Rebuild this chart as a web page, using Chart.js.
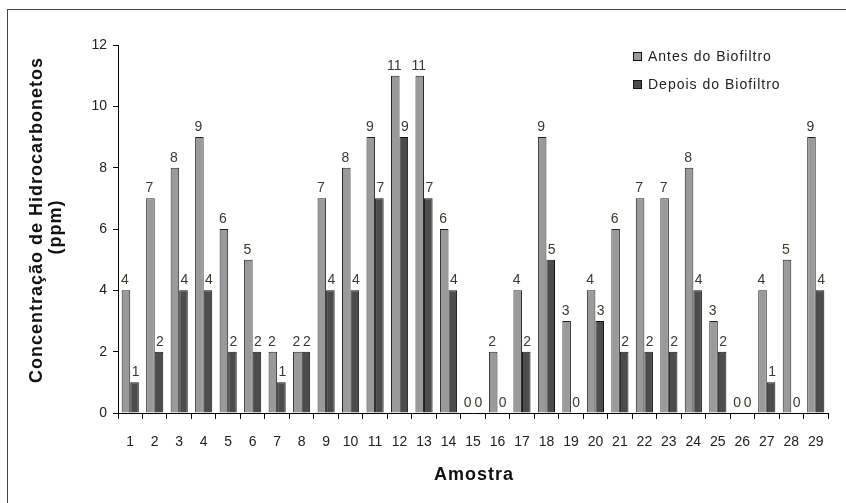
<!DOCTYPE html>
<html>
<head>
<meta charset="utf-8">
<script src="https://cdn.jsdelivr.net/npm/chart.js@4.4.1/dist/chart.umd.min.js"></script>
<style>
  html, body { margin: 0; padding: 0; background: #fff; overflow: hidden; }
  #frame { position: absolute; left: 7px; top: 9px; width: 900px; height: 600px; border: 1px solid #444; }
  #wrap { position: absolute; left: 0; top: 0; width: 846px; height: 503px; }
</style>
</head>
<body>
<div id="frame"></div>
<div id="wrap"><canvas id="chart" width="846" height="503"></canvas></div>
<script>
var amostras = ['1','2','3','4','5','6','7','8','9','10','11','12','13','14','15','16','17','18','19','20','21','22','23','24','25','26','27','28','29'];
var antes = [4, 7, 8, 9, 6, 5, 2, 2, 7, 8, 9, 11, 11, 6, 0, 2, 4, 9, 3, 4, 6, 7, 7, 8, 3, 0, 4, 5, 9];
var depois = [1, 2, 4, 4, 2, 2, 1, 2, 4, 4, 7, 9, 7, 4, 0, 0, 2, 5, 0, 3, 2, 2, 2, 4, 2, 0, 1, 0, 4];
var yTicks = [0, 2, 4, 6, 8, 10, 12];
var tituloY = ['Concentração de Hidrocarbonetos', '(ppm)'];
var tituloX = 'Amostra';

var fontFam = '"Liberation Sans", Arial, sans-serif';

// valores em cima das barras
var valueLabels = {
    id: 'valueLabels',
    afterDatasetsDraw: function(chart) {
        var ctx = chart.ctx;
        ctx.save();
        ctx.font = '14px ' + fontFam;
        ctx.fillStyle = '#3a3a2a';
        ctx.textAlign = 'center';
        ctx.textBaseline = 'bottom';
        chart.data.datasets.forEach(function(ds, i) {
            var meta = chart.getDatasetMeta(i);
            meta.data.forEach(function(bar, j) {
                ctx.fillText(String(ds.data[j]), bar.x + (i == 0 ? -1 : 1), bar.y - 3);
            });
        });
        ctx.restore();
    }
};

// titulos dos eixos e legenda dentro da area
var extras = {
    id: 'extras',
    afterDraw: function(chart) {
        var ctx = chart.ctx;
        var area = chart.chartArea;
        ctx.save();
        ctx.letterSpacing = '1px';
        ctx.fillStyle = '#111';
        ctx.font = 'bold 18px ' + fontFam;
        ctx.textAlign = 'center';
        ctx.textBaseline = 'alphabetic';
        ctx.fillText(tituloX, (area.left + area.right) / 2 + 1, 480);

        var linhas = [[42, 220], [61, 227]];
        tituloY.forEach(function(t, i) {
            ctx.save();
            ctx.translate(linhas[i][0], linhas[i][1]);
            ctx.rotate(-Math.PI / 2);
            ctx.fillText(t, 0, 0);
            ctx.restore();
        });

        ctx.font = '14px ' + fontFam;
        ctx.textAlign = 'left';
        ctx.textBaseline = 'middle';
        chart.data.datasets.forEach(function(ds, i) {
            var x = 633, y = 56 + i * 28;
            ctx.fillStyle = ds.backgroundColor;
            ctx.fillRect(x, y - 4, 9, 9);
            ctx.strokeStyle = '#111';
            ctx.lineWidth = 1;
            ctx.strokeRect(x + 0.5, y - 3.5, 8, 8);
            ctx.fillStyle = '#222';
            ctx.fillText(ds.label, x + 15, y + 1);
        });
        ctx.restore();
    }
};

new Chart(document.getElementById('chart'), {
    type: 'bar',
    data: {
        labels: amostras,
        datasets: [{
            label: 'Antes do Biofiltro',
            data: antes,
            backgroundColor: '#9a9a9a',
            borderColor: '#222',
            borderWidth: 1,
            borderSkipped: 'bottom'
        }, {
            label: 'Depois do Biofiltro',
            data: depois,
            backgroundColor: '#4c4c4c',
            borderColor: '#111',
            borderWidth: 1,
            borderSkipped: 'bottom'
        }]
    },
    options: {
        responsive: false,
        animation: false,
        layout: { padding: { left: 0, top: 45, right: 18, bottom: 0 } },
        datasets: { bar: { categoryPercentage: 0.7, barPercentage: 1.0 } },
        plugins: {
            legend: { display: false },
            tooltip: { enabled: false }
        },
        scales: {
            x: {
                offset: true,
                afterFit: function(scale) { scale.height = 90; },
                grid: { offset: true, drawOnChartArea: false, tickLength: 6, color: '#000', tickColor: '#000' },
                border: { color: '#000', width: 1 },
                ticks: { color: '#222', font: { size: 14, family: fontFam }, padding: 15, maxRotation: 0, autoSkip: false }
            },
            y: {
                min: 0,
                max: 12,
                afterFit: function(scale) { scale.width = 118; },
                afterBuildTicks: function(scale) {
                    scale.ticks = yTicks.map(function(v) { return { value: v }; });
                },
                grid: { drawOnChartArea: false, tickLength: 5, color: '#000', tickColor: '#000' },
                border: { color: '#000', width: 1 },
                ticks: { color: '#222', font: { size: 14, family: fontFam }, padding: 6 }
            }
        }
    },
    plugins: [valueLabels, extras]
});
</script>
</body>
</html>
